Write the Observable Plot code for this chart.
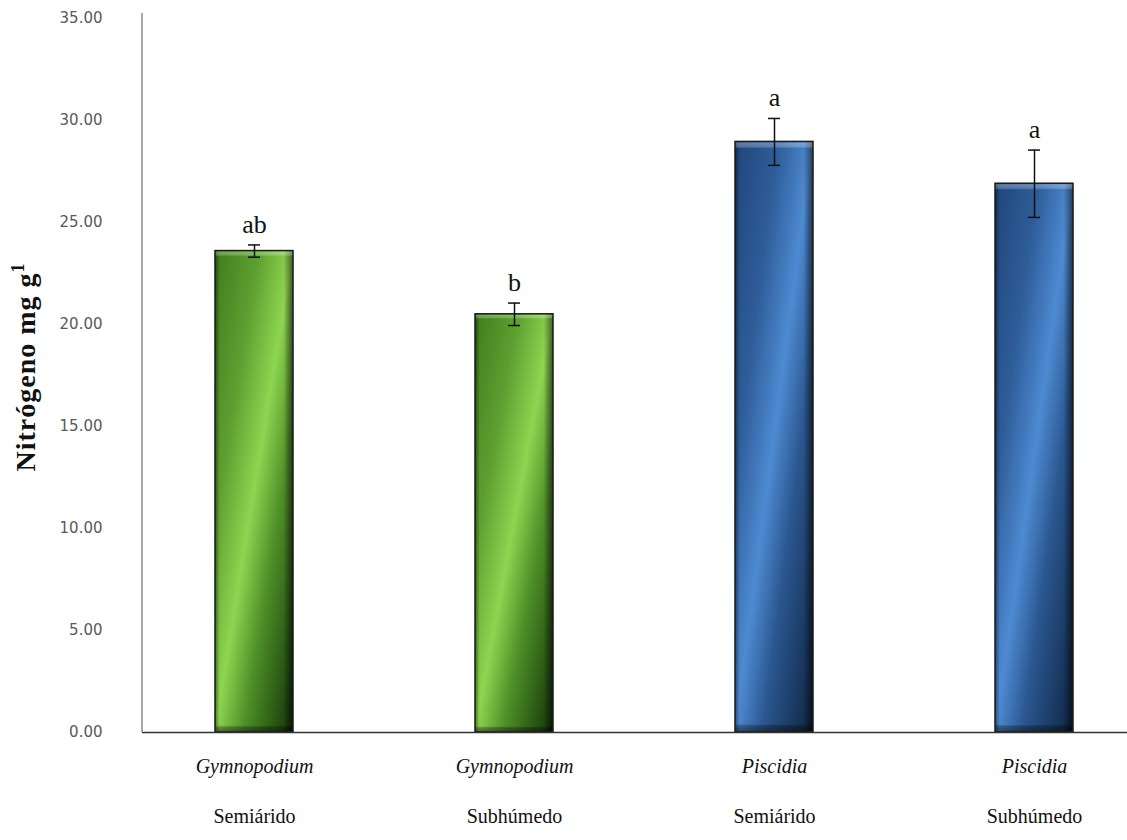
<!DOCTYPE html>
<html>
<head>
<meta charset="utf-8">
<script src="https://cdn.jsdelivr.net/npm/d3@7"></script>
<script src="https://cdn.jsdelivr.net/npm/@observablehq/plot@0.6"></script>
<style>
  body { margin: 0; background: #fff; }
</style>
</head>
<body>
<div id="chart"></div>
<script>
// Leaf nitrogen content by species and climate zone
const genus = ["Gymnopodium", "Gymnopodium", "Piscidia", "Piscidia"];
const climate = ["Semiárido", "Subhúmedo", "Semiárido", "Subhúmedo"];
const nitrogen = [23.6, 20.5, 28.95, 26.9];
const stdError = [0.3, 0.55, 1.15, 1.65];
const letters = ["ab", "b", "a", "a"];
const yTicks = [0, 5, 10, 15, 20, 25, 30, 35];
const yLabel = "Nitrógeno mg g";
const yLabelSup = "1";

const data = genus.map((g, i) => ({
  key: `${g} ${climate[i]}`,
  genus: g,
  climate: climate[i],
  mean: nitrogen[i],
  err: stdError[i],
  letter: letters[i]
}));
const keys = data.map(d => d.key);

// Gradient definitions for the shaded bars
function gradientDefs() {
  const g = d3.create("svg:g");
  const defs = g.append("defs");
  const add = (id, attrs, stops) => {
    const lg = defs.append("linearGradient").attr("id", id);
    for (const [k, v] of Object.entries(attrs)) lg.attr(k, v);
    for (const [o, c, op] of stops) {
      lg.append("stop").attr("offset", o).attr("stop-color", c).attr("stop-opacity", op ?? 1);
    }
  };
  const diag = {x1: 0, y1: 0, x2: 1, y2: 1};
  add("gradG", diag, [
    [0, "#3f7c1d"], [0.28, "#5e9f31"], [0.5, "#8ed550"], [0.68, "#4f9028"], [1, "#113306"]
  ]);
  add("gradP", diag, [
    [0, "#21457a"], [0.28, "#2e5d99"], [0.5, "#4e8ad2"], [0.68, "#2a568f"], [1, "#0e2442"]
  ]);
  add("edgeH", {x1: 0, y1: 0, x2: 1, y2: 0}, [
    [0, "#000", 0.45], [0.06, "#000", 0], [0.88, "#000", 0], [1, "#000", 0.55]
  ]);
  add("edgeV", {x1: 0, y1: 0, x2: 0, y2: 1}, [
    [0, "#fff", 0.05], [0.003, "#fff", 0.3], [0.009, "#fff", 0.22], [0.012, "#fff", 0],
    [0.986, "#000", 0], [0.99, "#000", 0.3], [1, "#000", 0.45]
  ]);
  return g.node();
}

// Left axis line
function leftAxisLine(index, scales, values, dims) {
  const x = dims.marginLeft;
  return d3.create("svg:line")
    .attr("x1", x).attr("x2", x)
    .attr("y1", dims.marginTop - 5).attr("y2", dims.height - dims.marginBottom)
    .attr("stroke", "#8c8c8c").attr("stroke-width", 1.5)
    .node();
}

const serif = "'Liberation Serif', 'Times New Roman', serif";

// Rotated y-axis title with superscript
function yTitle(index, scales, values, dims) {
  const cy = (dims.marginTop + dims.height - dims.marginBottom) / 2 - 8;
  const t = d3.create("svg:text")
    .attr("transform", `translate(35,${cy}) rotate(-90)`)
    .attr("text-anchor", "middle")
    .attr("font-family", serif)
    .attr("font-weight", "bold")
    .attr("font-size", 28)
    .attr("letter-spacing", 1)
    .attr("fill", "#111");
  t.append("tspan").text(yLabel);
  t.append("tspan").attr("dy", -11).attr("font-size", 18).text(yLabelSup);
  return t.node();
}

const chart = Plot.plot({
  width: 1127,
  height: 840,
  marginLeft: 142,
  marginRight: 0,
  marginTop: 18,
  marginBottom: 108,
  style: {background: "white"},
  x: {domain: keys, range: [124, 1164], paddingInner: 0.7, paddingOuter: 0.35, axis: null},
  y: {domain: [0, 35], axis: null},
  marks: [
    gradientDefs,
    Plot.axisY(yTicks, {
      anchor: "left",
      tickSize: 0,
      tickPadding: 40,
      tickFormat: d3.format(".2f"),
      fontSize: 15,
      fontFamily: "'DejaVu Sans', Verdana, sans-serif",
      fill: "#595959",
      label: null
    }),
    Plot.barY(data, {
      filter: d => d.genus === "Gymnopodium",
      x: "key", y: "mean",
      fill: "url(#gradG)"
    }),
    Plot.barY(data, {
      filter: d => d.genus === "Piscidia",
      x: "key", y: "mean",
      fill: "url(#gradP)"
    }),
    Plot.barY(data, {x: "key", y: "mean", fill: "url(#edgeH)"}),
    Plot.barY(data, {x: "key", y: "mean", fill: "url(#edgeV)", stroke: "#1a1a1a", strokeWidth: 1.5}),
    Plot.ruleX(data, {
      x: "key", y1: d => d.mean - d.err, y2: d => d.mean + d.err,
      stroke: "#111", strokeWidth: 1.5
    }),
    Plot.tickY(data, {
      x: "key", y: d => d.mean + d.err,
      insetLeft: 33, insetRight: 33, stroke: "#111", strokeWidth: 1.5
    }),
    Plot.tickY(data, {
      x: "key", y: d => d.mean - d.err,
      insetLeft: 33, insetRight: 33, stroke: "#111", strokeWidth: 1.5
    }),
    Plot.text(data, {
      x: "key", y: d => d.mean + d.err, text: "letter",
      lineAnchor: "bottom", dy: -12,
      fontSize: 26, fontFamily: serif, fill: "#111"
    }),
    Plot.ruleY([0], {stroke: "#333", strokeWidth: 1.5}),
    leftAxisLine,
    Plot.text(data, {
      x: "key", text: "genus", frameAnchor: "bottom", dy: 40,
      fontSize: 20, fontStyle: "italic", fontFamily: serif, fill: "#111"
    }),
    Plot.text(data, {
      x: "key", text: "climate", frameAnchor: "bottom", dy: 90,
      fontSize: 20, fontFamily: serif, fill: "#111"
    }),
    yTitle
  ]
});

document.getElementById("chart").appendChild(chart);
</script>
</body>
</html>
